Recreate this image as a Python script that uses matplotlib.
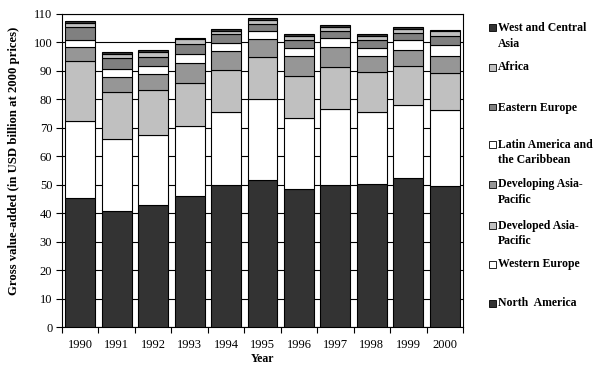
import matplotlib
matplotlib.use("Agg")
import matplotlib.pyplot as plt
import numpy as np
from matplotlib.patches import Rectangle

years = ["1990", "1991", "1992", "1993", "1994", "1995", "1996", "1997", "1998", "1999", "2000"]
north_america = [45.2, 40.9, 42.8, 46.0, 49.8, 51.5, 48.4, 49.8, 50.2, 52.3, 49.5]
western_europe = [27.3, 25.3, 24.8, 24.5, 25.9, 28.5, 25.2, 26.9, 25.5, 25.8, 26.9]
developed_ap = [21.1, 16.5, 15.8, 15.4, 14.7, 15.0, 14.7, 14.6, 14.0, 13.7, 13.0]
developing_ap = [4.9, 5.3, 5.6, 7.0, 6.7, 6.3, 7.0, 7.2, 5.6, 5.6, 5.9]
latin_america = [2.4, 2.8, 2.8, 3.1, 2.8, 2.6, 2.8, 3.1, 2.9, 3.3, 3.9]
eastern_europe = [4.6, 3.9, 3.2, 3.5, 2.9, 2.7, 2.7, 2.5, 2.6, 2.7, 3.2]
africa = [1.4, 1.4, 1.5, 1.6, 1.4, 1.2, 1.4, 1.4, 1.4, 1.5, 1.5]
west_central_asia = [0.7, 0.6, 0.7, 0.5, 0.5, 0.7, 0.6, 0.7, 0.6, 0.7, 0.6]

series = [
    ("North  America", north_america, "#333333"),
    ("Western Europe", western_europe, "#ffffff"),
    ("Developed Asia-\nPacific", developed_ap, "#c0c0c0"),
    ("Developing Asia-\nPacific", developing_ap, "#969696"),
    ("Latin America and\nthe Caribbean", latin_america, "#ffffff"),
    ("Eastern Europe", eastern_europe, "#808080"),
    ("Africa", africa, "#c0c0c0"),
    ("West and Central\nAsia", west_central_asia, "#333333"),
]

plt.rcParams["font.family"] = ["Liberation Serif", "DejaVu Serif"]

W, H = 605, 371
fig = plt.figure(figsize=(W / 100, H / 100), dpi=100)
ax = fig.add_axes([62 / W, (H - 327) / H, 401 / W, 313 / H])

x = np.arange(len(years))
bottom = np.zeros(len(years))
for name, vals, col in series:
    ax.bar(x, vals, width=0.82, bottom=bottom, color=col, edgecolor="black",
           linewidth=0.8, zorder=3)
    bottom += np.array(vals)

ax.set_xlim(-0.5, len(years) - 0.5)
ax.set_ylim(0, 110)
ax.set_yticks(np.arange(0, 111, 10))
ax.yaxis.grid(True, color="black", linewidth=0.8, zorder=0)
ax.set_axisbelow(True)

ax.set_xticks(x)
ax.set_xticklabels(years, fontsize=9)
ax.set_xticks(np.arange(-0.5, len(years), 1), minor=True)
ax.tick_params(axis="x", which="major", length=0, pad=9)
ax.tick_params(axis="x", which="minor", length=4, width=0.8, direction="out")
ax.tick_params(axis="y", length=4, width=0.8, direction="out", labelsize=9, pad=3)
for s in ax.spines.values():
    s.set_linewidth(0.8)

ax.set_xlabel("Year", fontsize=8.5, fontweight="bold", labelpad=1)
ax.set_ylabel("Gross value-added (in USD billion at 2000 prices)", fontsize=9.2,
              fontweight="bold")
ax.yaxis.set_label_coords(-0.105, 0.53)

# legend (manual, right side)
legend_y = [27.5, 67, 107, 144, 184, 225, 264, 303]
for (name, vals, col), yy in zip(series[::-1], legend_y):
    fig.patches.append(Rectangle((489 / W, 1 - (yy + 3.5) / H), 6.5 / W, 6.5 / H,
                                 transform=fig.transFigure, facecolor=col,
                                 edgecolor="black", linewidth=0.6))
    fig.text(498 / W, 1 - (yy - 5.5) / H, name, fontsize=8.5, fontweight="bold",
             va="top", ha="left", linespacing=1.4)

fig.savefig("out.png", dpi=100)
